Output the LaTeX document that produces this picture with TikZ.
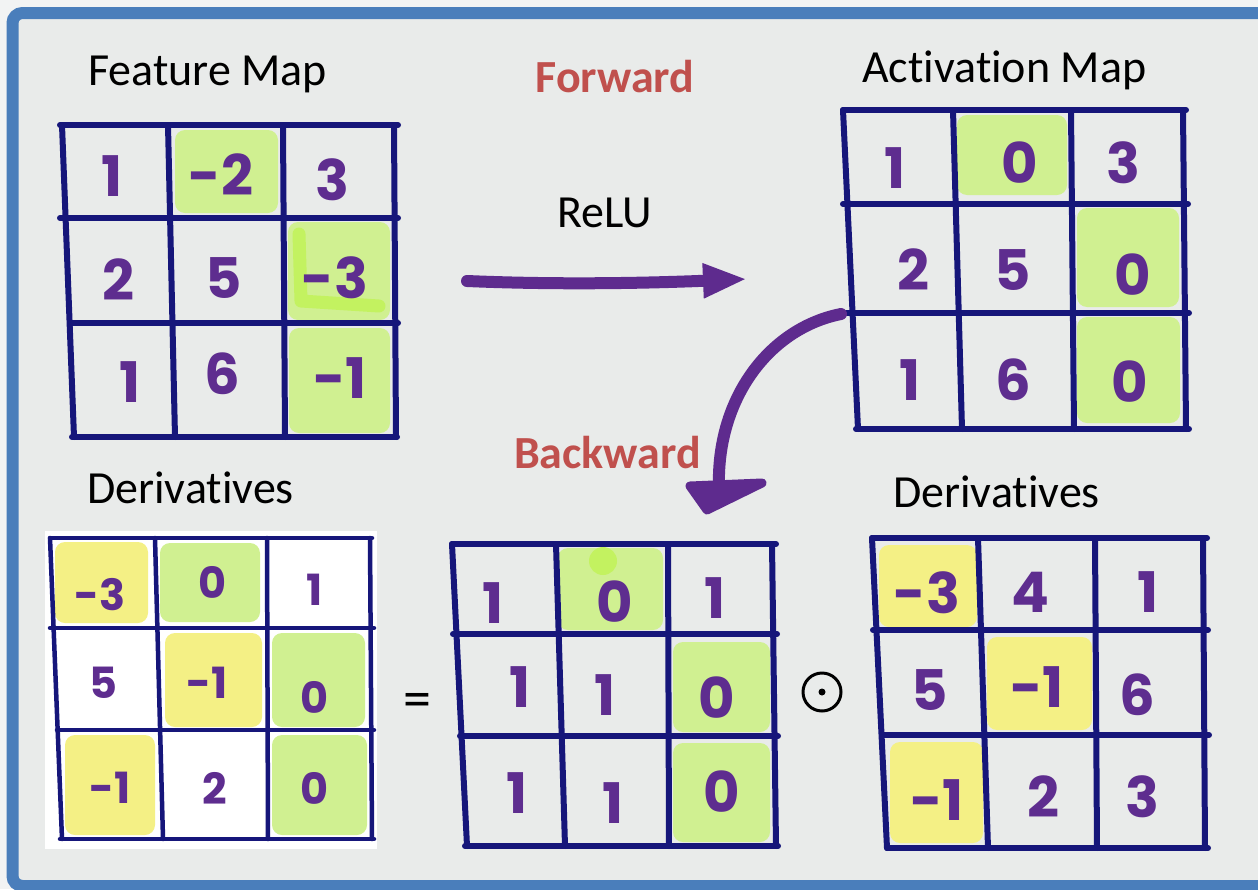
\documentclass[tikz,border=0pt]{standalone}
\usepackage{fontspec}
\setmainfont{Carlito}[Ligatures=NoCommon]
\newfontfamily\digitfont{Poppins}
\usetikzlibrary{arrows.meta}
\definecolor{bgout}{HTML}{F2F3F3}
\definecolor{bgin}{HTML}{E9EBEA}
\definecolor{frameblue}{HTML}{4A7EBB}
\definecolor{gridnavy}{HTML}{16167A}
\definecolor{digitpurple}{HTML}{5E2D8F}
\definecolor{hlgreen}{HTML}{D0F091}
\definecolor{hlbright}{HTML}{C3F260}
\definecolor{hlyellow}{HTML}{F4F085}
\definecolor{labelred}{HTML}{C0504D}
\definecolor{arrowpurple}{HTML}{5E2B8E}
\begin{document}
\begin{tikzpicture}[x=1pt,y=-1pt,
  gridline/.style={draw=gridnavy,line width=6pt,line cap=round},
  thingridline/.style={draw=gridnavy,line width=4.5pt,line cap=round},
  hlg/.style={fill=hlgreen,rounded corners=10pt},
  hly/.style={fill=hlyellow,rounded corners=10pt},
  digit/.style={text=digitpurple,font=\digitfont\bfseries\fontsize{56}{56}\selectfont,inner sep=0pt},
  smalldigit/.style={digit,font=\digitfont\bfseries\fontsize{43}{43}\selectfont},
  titletext/.style={font=\fontsize{46}{50}\selectfont,inner sep=0pt,anchor=base west},
  redlabel/.style={text=labelred,font=\bfseries\fontsize{46}{50}\selectfont,inner sep=0pt,anchor=base},
  arrowline/.style={draw=arrowpurple,line width=12pt,line cap=round,line join=round}
]
\useasboundingbox (0,0) rectangle (1258,889);
\clip (0,0) rectangle (1258,889);
\fill[bgout] (0,0) rectangle (1258,889);
\draw[frameblue,line width=12pt,fill=bgin,rounded corners=10pt] (12.5,13) rectangle (1300,886);

% ---------- titles ----------
\node[titletext] (tFeat) at (88,85) {Feature Map};
\node[titletext] (tAct) at (862,82) {Activation Map};
\node[titletext] (tDerL) at (87,503) {Derivatives};
\node[titletext] (tDerR) at (893,507) {Derivatives};
\node[redlabel] (lFwd) at (615,92) {Forward};
\node[redlabel] (lBwd) at (607.5,468) {Backward};
\node[font=\fontsize{46}{50}\selectfont,inner sep=0pt,anchor=base] (lRelu) at (605,227) {ReLU};

% ---------- Grid A: Feature Map ----------
\fill[hlg] (175,130) rectangle (278,213);
\fill[hlg] (288,222) rectangle (390,320);
\draw[hlbright,line width=13pt,line cap=round,line join=round] (299,234) -- (301,301) -- (379,306);
\fill[hlg] (289,328) rectangle (390,433);
\draw[gridline] (62,125) -- (74,437);
\draw[gridline] (168,125) -- (175,437);
\draw[gridline] (283,125) -- (285,437);
\draw[gridline] (394,125) -- (396,437);
\draw[gridline] (60,125) -- (398,125);
\draw[gridline] (60,218) -- (398,218);
\draw[gridline] (70,323) -- (398,323);
\draw[gridline] (72,437) -- (397,437);
\node[digit] (a11) at (112,176) {1};
\node[digit] (a12) at (221,175) {-2};
\node[digit] (a13) at (332,180) {3};
\node[digit] (a21) at (118,280) {2};
\node[digit] (a22) at (224,278) {5};
\node[digit] (a23) at (335,278) {-3};
\node[digit] (a31) at (130,382) {1};
\node[digit] (a32) at (222,374) {6};
\node[digit] (a33) at (340,378) {-1};

% ---------- Grid B: Activation Map ----------
\fill[hlg] (957,115) rectangle (1067,195);
\fill[hlg] (1077,208) rectangle (1179,307);
\fill[hlg] (1077,317) rectangle (1180,423);
\draw[gridline] (843,110) -- (858,429);
\draw[gridline] (953,110) -- (962,429);
\draw[gridline] (1071,110) -- (1074,429);
\draw[gridline] (1183,110) -- (1186,429);
\draw[gridline] (843,110) -- (1186,110);
\draw[gridline] (843,204) -- (1188,204);
\draw[gridline] (846,313) -- (1189,313);
\draw[gridline] (856,429) -- (1189,429);
\node[digit] (b11) at (895,168) {1};
\node[digit] (b12) at (1020,163) {0};
\node[digit] (b13) at (1123,163) {3};
\node[digit] (b21) at (913,270) {2};
\node[digit] (b22) at (1013,270) {5};
\node[digit] (b23) at (1133,275) {0};
\node[digit] (b31) at (910,380) {1};
\node[digit] (b32) at (1013,380) {6};
\node[digit] (b33) at (1130,382) {0};

% ---------- Grid C: Derivatives (left) ----------
\fill[white] (45,531) rectangle (377,849);
\fill[hly] (55,542) rectangle (148,623);
\fill[hlg] (160,543) rectangle (260,622);
\fill[hly] (165,633) rectangle (262,727);
\fill[hlg] (272,633) rectangle (365,727);
\fill[hly] (65,735) rectangle (155,835);
\fill[hlg] (272,735) rectangle (367,835);
\draw[thingridline] (50,538) -- (62,839);
\draw[thingridline] (155,538) -- (163,839);
\draw[thingridline] (267,538) -- (268,839);
\draw[thingridline] (370,538) -- (372,839);
\draw[thingridline] (50,538) -- (372,538);
\draw[thingridline] (50,628) -- (374,628);
\draw[thingridline] (57,730) -- (374,730);
\draw[thingridline] (60,839) -- (374,839);
\node[smalldigit] (c11) at (100,595) {-3};
\node[smalldigit] (c12) at (213,582) {0};
\node[smalldigit] (c13) at (315,590) {1};
\node[smalldigit] (c21) at (103,683) {5};
\node[smalldigit] (c22) at (207,683) {-1};
\node[smalldigit] (c23) at (315,697) {0};
\node[smalldigit] (c31) at (110,788) {-1};
\node[smalldigit] (c32) at (215,788) {2};
\node[smalldigit] (c33) at (315,788) {0};

\node[font=\fontsize{56}{60}\selectfont,inner sep=0pt] (eq) at (417,705) {=};

% ---------- Grid D: mask ----------
\fill[hlg] (558,548) rectangle (663,630);
\fill[hlbright] (603,561) circle (14pt);
\fill[hlg] (673,642) rectangle (770,732);
\fill[hlg] (673,743) rectangle (770,842);
\draw[gridline] (452,544) -- (467,846);
\draw[gridline] (556,544) -- (565,846);
\draw[gridline] (668,544) -- (669,846);
\draw[gridline] (772,544) -- (776,846);
\draw[gridline] (452,544) -- (776,544);
\draw[gridline] (453,634) -- (777,634);
\draw[gridline] (460,736) -- (778,736);
\draw[gridline] (465,846) -- (778,846);
\node[digit] (d11) at (493,603) {1};
\node[digit] (d12) at (615,602) {0};
\node[digit] (d13) at (715,598) {1};
\node[digit] (d21) at (520,687) {1};
\node[digit] (d22) at (605,695) {1};
\node[digit] (d23) at (717,698) {0};
\node[digit] (d31) at (517,793) {1};
\node[digit] (d32) at (613,803) {1};
\node[digit] (d33) at (722,792) {0};

\node[circle,draw=black,line width=3pt,minimum size=38pt,inner sep=0pt] (odot) at (822,692) {};
\fill[black] (odot.center) circle (3.5pt);

% ---------- Grid E: Derivatives (right) ----------
\fill[hly] (879,545) rectangle (977,627);
\fill[hly] (987,637) rectangle (1092,730);
\fill[hly] (890,742) rectangle (983,843);
\draw[gridline] (872,538) -- (887,848);
\draw[gridline] (978,538) -- (988,848);
\draw[gridline] (1095,538) -- (1097,848);
\draw[gridline] (1203,538) -- (1205,848);
\draw[gridline] (872,538) -- (1207,538);
\draw[gridline] (873,630) -- (1208,630);
\draw[gridline] (884,735) -- (1209,735);
\draw[gridline] (887,848) -- (1208,848);
\node[digit] (e11) at (927,593) {-3};
\node[digit] (e12) at (1030,592) {4};
\node[digit] (e13) at (1148,592) {1};
\node[digit] (e21) at (930,690) {5};
\node[digit] (e22) at (1037,687) {-1};
\node[digit] (e23) at (1137,695) {6};
\node[digit] (e31) at (937,800) {-1};
\node[digit] (e32) at (1043,797) {2};
\node[digit] (e33) at (1142,797) {3};

% ---------- arrows ----------
\coordinate (fwdS) at (467,281);
\coordinate (fwdE) at (747,279);
\draw[arrowline,-{Triangle[length=44pt,width=32pt]}] (fwdS) .. controls (560,285) and (650,283) .. (fwdE);

\coordinate (bwdS) at (841,314);
\coordinate (bwdM) at (719,488);
\coordinate (bhL) at (690,486);
\coordinate (bhR) at (762,483);
\coordinate (bhT) at (707,510);
\draw[arrowline] (bwdS) .. controls (770,328) and (716,398) .. (bwdM);
\filldraw[arrowline,fill=arrowpurple,line width=9pt] (bhL) -- (bhR) -- (bhT) -- cycle;
\end{tikzpicture}
\end{document}
